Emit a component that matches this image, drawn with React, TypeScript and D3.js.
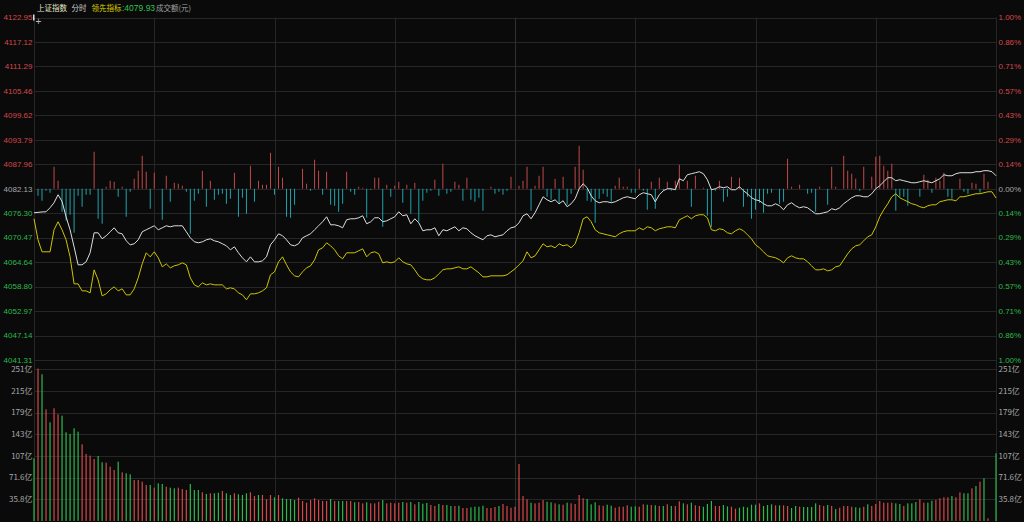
import React from "react";
import * as d3 from "d3";

const W = 1024;
const H = 522;

const priceTicks = [4122.95, 4117.12, 4111.29, 4105.46, 4099.62, 4093.79, 4087.96, 4082.13, 4076.30, 4070.47, 4064.64, 4058.80, 4052.97, 4047.14, 4041.31];
const pctTicks = ["1.00%", "0.86%", "0.71%", "0.57%", "0.43%", "0.29%", "0.14%", "0.00%", "0.14%", "0.29%", "0.43%", "0.57%", "0.71%", "0.86%", "1.00%"];
const volTicks = [35.83, 71.66, 107.5, 143.3, 179.2, 215.0, 250.8];
const volTickLabels = ["35.8亿", "71.6亿", "107亿", "143亿", "179亿", "215亿", "251亿"];
const baseClose = 4082.13;

const priceLine = [4076.40,4076.50,4076.60,4076.64,4077.60,4078.79,4080.70,4079.10,4075.45,4072.35,
4068.29,4064.00,4064.00,4064.71,4066.86,4071.63,4071.63,4070.20,4070.92,4071.87,
4072.82,4071.63,4071.39,4069.72,4068.77,4069.01,4069.96,4071.87,4072.35,4072.82,
4073.30,4072.35,4072.82,4073.30,4073.06,4073.30,4073.30,4073.30,4071.87,4070.44,
4069.48,4069.25,4069.48,4069.96,4070.20,4069.72,4069.48,4069.01,4068.53,4067.57,
4068.29,4066.86,4065.67,4064.71,4065.90,4064.71,4064.71,4064.95,4065.90,4068.77,
4069.96,4071.39,4070.92,4069.96,4068.77,4068.53,4069.01,4070.44,4070.92,4071.39,
4072.35,4073.30,4074.26,4075.45,4073.54,4073.54,4073.30,4072.82,4074.73,4074.97,
4074.97,4075.21,4075.69,4073.78,4074.26,4075.21,4075.21,4074.26,4074.49,4074.97,
4075.45,4076.64,4075.69,4075.93,4073.78,4074.97,4074.02,4072.11,4072.35,4072.35,
4072.82,4070.92,4072.35,4072.11,4072.59,4073.06,4072.11,4072.82,4072.59,4071.63,
4070.92,4070.44,4069.96,4070.92,4071.15,4070.68,4070.92,4071.15,4072.11,4072.82,
4073.06,4074.02,4075.69,4076.17,4074.97,4076.40,4078.31,4080.22,4079.50,4079.03,
4079.50,4078.55,4079.27,4077.84,4078.55,4079.74,4082.13,4083.32,4082.37,4080.46,
4079.27,4078.79,4079.03,4079.03,4078.79,4079.03,4079.50,4079.98,4080.22,4079.98,
4079.74,4080.70,4081.18,4080.94,4080.70,4079.03,4080.70,4081.65,4082.13,4082.13,
4081.89,4084.52,4084.04,4085.47,4085.71,4085.95,4086.19,4085.71,4084.28,4081.89,
4082.13,4082.61,4082.37,4082.61,4081.89,4081.89,4082.61,4081.65,4080.94,4079.98,
4079.50,4079.27,4078.55,4078.07,4078.07,4078.55,4078.07,4077.12,4078.31,4078.79,
4078.07,4077.60,4077.84,4077.60,4076.88,4076.17,4076.17,4076.40,4076.64,4077.36,
4077.12,4077.60,4078.55,4079.27,4079.98,4080.46,4080.46,4080.22,4080.22,4080.94,
4082.13,4082.85,4083.80,4084.76,4084.76,4084.04,4084.28,4084.04,4083.80,4083.56,
4083.56,4083.80,4084.04,4083.80,4083.56,4084.04,4084.52,4085.47,4085.23,4085.23,
4085.71,4085.95,4085.95,4085.95,4085.95,4086.19,4086.19,4086.43,4086.43,4086.19,
4085.23];

const leadLine = [4074.97,4069.96,4067.10,4067.10,4067.10,4072.35,4074.26,4072.35,4069.96,4065.91,
4059.46,4059.46,4057.79,4057.79,4057.31,4062.80,4060.42,4056.60,4057.08,4058.03,
4058.75,4057.79,4058.27,4056.84,4056.84,4058.27,4060.89,4064.23,4066.86,4065.90,
4067.10,4065.67,4063.52,4064.23,4063.28,4063.76,4064.00,4064.47,4064.00,4060.89,
4059.22,4058.75,4059.70,4059.22,4059.46,4059.22,4059.22,4059.22,4058.27,4058.51,
4058.27,4057.31,4056.84,4055.65,4057.08,4057.08,4057.31,4057.79,4058.51,4061.61,
4062.32,4064.71,4065.90,4064.00,4062.32,4061.37,4061.13,4062.32,4063.28,4063.76,
4065.19,4067.57,4068.05,4069.25,4068.53,4067.57,4066.14,4065.43,4066.86,4066.86,
4066.86,4067.34,4067.81,4065.90,4066.86,4067.10,4066.62,4064.47,4064.71,4064.47,
4064.71,4065.67,4064.71,4064.23,4064.00,4062.80,4061.37,4060.66,4060.42,4060.42,
4060.89,4061.85,4062.80,4063.04,4063.04,4063.28,4063.52,4063.04,4063.04,4063.52,
4062.80,4062.09,4061.13,4061.13,4061.37,4061.37,4061.37,4061.37,4061.61,4062.32,
4063.04,4064.00,4064.95,4067.10,4065.67,4066.14,4067.57,4069.01,4068.29,4068.53,
4068.05,4069.01,4068.53,4068.77,4068.05,4069.01,4071.63,4074.97,4075.45,4074.26,
4072.35,4071.63,4071.39,4071.15,4070.92,4070.68,4071.39,4071.87,4072.11,4072.11,
4072.11,4072.82,4072.35,4073.06,4072.82,4072.11,4072.59,4072.82,4073.06,4073.06,
4072.82,4074.73,4075.21,4075.69,4074.97,4075.69,4075.93,4075.93,4075.21,4072.35,
4072.11,4072.59,4072.35,4071.63,4071.39,4072.11,4072.59,4072.11,4071.15,4070.20,
4068.77,4068.05,4067.10,4066.14,4065.90,4065.67,4065.19,4064.47,4065.67,4066.14,
4065.67,4065.43,4065.43,4064.71,4063.76,4062.80,4062.80,4063.04,4062.56,4062.80,
4063.52,4063.76,4065.19,4066.62,4067.81,4068.53,4068.77,4069.72,4070.68,4071.15,
4073.06,4075.45,4077.12,4078.55,4080.22,4080.94,4079.98,4079.50,4079.03,4078.55,
4078.31,4077.84,4077.60,4078.07,4078.31,4078.31,4079.03,4079.27,4079.50,4079.50,
4079.27,4080.22,4080.22,4080.46,4080.70,4080.94,4080.94,4081.18,4081.41,4081.41,
4079.93];

// buy/sell strength bars around the previous close
const flowBars = [0,-7,-12,-2,-4,22,8,-23,-32,-26,
-44,-7,-18,-6,-6,37,-30,-35,2,8,
7,-8,2,-28,-3,10,18,33,17,-20,
16,0,-31,13,-13,6,5,3,-3,-45,
-12,-5,18,-18,8,-11,-6,-5,-15,-10,
16,-28,-9,-25,23,-13,8,4,4,36,
-6,22,11,-28,-29,-16,0,20,5,-2,
29,18,-6,17,-16,-17,-23,-15,17,-3,
-6,2,1,-29,-1,11,11,-38,4,-8,
3,7,-14,4,-25,6,-33,-12,-4,-2,
9,-7,25,-5,-3,7,4,-12,11,-11,
-13,-9,-22,0,2,-5,-3,-6,-2,12,
0,3,8,22,-22,3,13,22,-8,-11,
10,-15,12,-16,-5,22,43,19,-12,-13,
-34,-10,-5,-8,-13,3,11,2,2,-4,
-4,20,-2,-21,7,-20,11,-2,7,-2,
8,24,0,8,-18,13,0,1,-27,-38,
-2,8,-13,-8,12,0,11,-18,-8,-30,
-21,-14,-24,-5,-4,0,-15,-13,30,2,
0,4,0,-5,-4,-23,2,0,-16,22,
2,0,33,18,15,10,-2,22,0,12,
32,33,23,18,25,-22,-8,-8,-17,0,
0,-8,14,9,-4,11,8,16,-8,-10,
0,10,-3,-5,6,5,-4,15,7,0,
0];

const volume = [103.7,252,242.6,184.7,163.2,186.4,176.4,174.2,146.7,143.9,
153.3,147.7,126.8,110.8,108,102.5,107.5,97,96.4,89.8,
84.3,98.1,80.5,78.9,77.2,67.8,67.8,65,59.5,59.5,
55.1,62.3,61.2,56.7,55.1,54,55.1,52.9,51.3,61.2,
51.3,51.3,47.4,44.7,45.8,45.8,46.8,49.6,45.8,43,
45.8,44.2,43,45.8,47.4,41.3,43,43,35.9,43,
39.2,43,37.5,36.4,36.4,34.7,38.5,33.1,30.3,34.7,
37.5,34.7,33.1,33.1,36.4,33.1,33.1,33.1,33.1,33.1,
30.9,31.4,29.2,30.9,29.2,29.2,31.9,34.7,29.2,30.3,
29.2,30.3,31.4,30.3,31.4,27.6,31.4,28.6,29.8,26.5,
24.8,28.1,26.5,26.5,24.8,24.8,25.3,21.5,21.5,22.6,
23.6,23.6,25.3,21.5,21.5,23.2,24.8,28.1,24.8,22,
23.6,94.3,41.3,35.9,30.3,29.2,30.3,34.7,31.9,30.9,
29.2,27.6,27,30.3,29.2,28.1,43,37.5,36.4,27.6,
30.9,25.9,25.3,27,25.3,22,23.6,23.6,25.9,23.6,
24.2,23.6,27.6,27,26.5,25.9,24.8,24.8,27.6,24.8,
24.8,32.5,29.2,27.6,30.3,25.9,24.8,23.6,28.1,33.1,
24.8,24.8,26.5,24.2,23.6,20.4,22,23.6,22.6,27,
27,29.2,24.8,26.5,27.6,25.9,25.9,25.9,24.8,21.5,
24.8,23.6,23.2,23.2,23.2,29.2,26.5,24.8,26.5,24.8,
19.8,22,24.8,24.8,23.6,22.6,22,23.6,27.6,24.8,
28.1,33.1,30.3,30.3,30.3,29.2,28.1,24.8,29.2,29.2,
31.4,35.9,30.3,30.3,33.6,34.7,37.5,39.2,39.2,41.3,
39.2,47.4,45.8,45.8,54,57.9,65,70.6,4.5,0,
112];

const volumeDir = ("GRGRGRRGGG" + "GGRRRRGGRR" + "RGRGGRRRRG" + "RGGRGGRRRG" + "GGRGRGGRGG" +
  "RGGGRRGRRR" + "GRGGGGRRRR" + "RRRRGRGGRR" + "GRRGRRRGRR" + "RRGRGRGGGR" +
  "RGRGGRGRRG" + "GGGRRRGRRR" + "RRRRGRRRGG" + "RGRGRRRRGG" + "GRRGGRRRRG" +
  "GRRGRGRGRG" + "RRGRGRRGGG" + "RRGGRRGGGG" + "GRGGGRGRRG" + "GRGGGGRRGR" +
  "GRRRRGGRGR" + "RRRRRGGRGG" + "GRRGGRRRRG" + "RRGGRGRGRGG").split("");

const BG = "#0a0a0a";
const GRID = "#262626";
const RED = "#d4484a";
const GREEN = "#2cb84c";
const GREY = "#a8a8a8";

export default function App() {
  const left = 34;
  const right = 996;
  const priceTop = 17.5;
  const priceBottom = 360;
  const volTop = 369.3;
  const volBottom = 521;

  const x = d3.scaleLinear().domain([0, 240]).range([left, right]);
  const y = d3.scaleLinear().domain([4041.31, 4122.95]).range([priceBottom, priceTop]);
  const yv = d3.scaleLinear().domain([0, 250.8]).range([volBottom, volTop]);
  const yf = d3.scaleLinear().domain([-100, 100]).range([y(baseClose) + 100, y(baseClose) - 100]);

  const line = d3.line<number>().x((_, i) => x(i)).y((d) => y(d));

  const vGrid = d3.range(0, 9).map((k) => left + (k * (right - left)) / 8);
  const font = "'Liberation Sans', Arial, sans-serif";
  const cjk = "'Noto Sans CJK SC', 'Liberation Sans', sans-serif";

  const labelColor = (v: number) => (Math.abs(v - baseClose) < 0.01 ? GREY : v > baseClose ? RED : GREEN);

  return (
    <svg width={W} height={H} style={{ position: "fixed", left: 0, top: 0, background: BG }}>
      <rect x={0} y={0} width={W} height={H} fill={BG} />
      {/* horizontal grid: price */}
      {priceTicks.map((t, i) => (
        <line key={"pg" + i} x1={left} x2={right} y1={Math.round(y(t)) + 0.5} y2={Math.round(y(t)) + 0.5} stroke={GRID} strokeWidth={1} />
      ))}
      {/* horizontal grid: volume */}
      {volTicks.map((t, i) => (
        <line key={"vg" + i} x1={left} x2={right} y1={Math.round(yv(t)) + 0.5} y2={Math.round(yv(t)) + 0.5} stroke={GRID} strokeWidth={1} />
      ))}
      {/* vertical grid */}
      {vGrid.map((gx, i) => (
        <line key={"vx" + i} x1={Math.round(gx) + 0.5} x2={Math.round(gx) + 0.5} y1={priceTop} y2={H} stroke={i === 4 ? "#303030" : GRID} strokeWidth={1} />
      ))}

      {/* flow bars */}
      {flowBars.map((v, i) =>
        v === 0 ? null : (
          <rect key={"fb" + i} x={x(i) - 0.5} width={1} y={Math.min(yf(v), yf(0))} height={Math.abs(yf(v) - yf(0))} fill={v > 0 ? "#be4a4b" : "#1ea2ab"} />
        )
      )}

      {/* lines */}
      <path d={line(leadLine) || ""} fill="none" stroke="#cfc400" strokeWidth={1} />
      <path d={line(priceLine) || ""} fill="none" stroke="#dedede" strokeWidth={1} />

      {/* volume bars */}
      {volume.map((v, i) =>
        v <= 0 ? null : (
          <rect key={"vb" + i} x={x(i) - 0.6} width={1.2} y={yv(v)} height={yv(0) - yv(v)} fill={volumeDir[i] === "R" ? RED : GREEN} />
        )
      )}

      {/* left price labels */}
      {priceTicks.map((t, i) => (
        <text key={"pl" + i} x={32.5} y={y(t)} dy="0.35em" textAnchor="end" fontFamily={font} fontSize={8} fill={labelColor(t)}>
          {t.toFixed(2)}
        </text>
      ))}
      {/* right pct labels */}
      {priceTicks.map((t, i) => (
        <text key={"pr" + i} x={998.5} y={y(t)} dy="0.35em" textAnchor="start" fontFamily={font} fontSize={8} fill={labelColor(t)}>
          {pctTicks[i]}
        </text>
      ))}
      {/* volume labels */}
      {volTicks.map((t, i) => (
        <g key={"vl" + i}>
          <text x={32.5} y={yv(t)} dy="0.35em" textAnchor="end" fontFamily={cjk} fontSize={8} fill={GREY}>
            {volTickLabels[i]}
          </text>
          <text x={998.5} y={yv(t)} dy="0.35em" textAnchor="start" fontFamily={cjk} fontSize={8} fill={GREY}>
            {volTickLabels[i]}
          </text>
        </g>
      ))}

      {/* cursor marks */}
      <rect x={33} y={14.5} width={1.5} height={6} fill="#e0e0e0" />
      <text x={38.5} y={21} dy="0.35em" textAnchor="middle" fontFamily={font} fontSize={10} fill="#bdbdbd">+</text>

      {/* header */}
      <text x={37} y={8} dy="0.35em" fontFamily={cjk} fontSize={7.5} fill="#e8e6c8">上证指数</text>
      <text x={71.5} y={8} dy="0.35em" fontFamily={cjk} fontSize={7.5} fill="#cfcfcf">分时</text>
      <text x={91.5} y={8} dy="0.35em" fontFamily={cjk} fontSize={7.5} fill="#d8cf00">领先指标</text>
      <text x={122} y={8} dy="0.35em" fontFamily={font} fontSize={8.5} fill="#33c24f">:4079.93</text>
      <text x={156} y={8} dy="0.35em" fontFamily={cjk} fontSize={7.5} fill="#a0a0a0">成交额(元)</text>
    </svg>
  );
}
